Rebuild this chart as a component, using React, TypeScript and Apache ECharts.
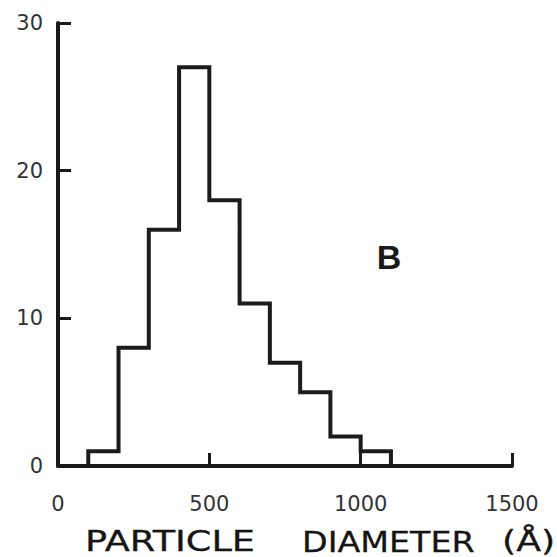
import React, { useEffect, useRef } from "react";
import * as echarts from "echarts";

const binEdges = [100, 200, 300, 400, 500, 600, 700, 800, 900, 1000, 1100];
const counts = [1, 8, 16, 27, 18, 11, 7, 5, 2, 1];
const xTicks = [0, 500, 1000, 1500];
const yTicks = [0, 10, 20, 30];
const xTitleWords = ["PARTICLE", "DIAMETER", "(Å)"];
const panelLabel = "B";

function stepPoints(): number[][] {
  const pts: number[][] = [[binEdges[0], 0]];
  counts.forEach((c, i) => {
    pts.push([binEdges[i], c]);
    pts.push([binEdges[i + 1], c]);
  });
  pts.push([binEdges[binEdges.length - 1], 0]);
  return pts;
}

export default function App() {
  const ref = useRef<HTMLDivElement>(null);
  useEffect(() => {
    if (!ref.current) return;
    const chart = echarts.init(ref.current, undefined, { renderer: "svg" });
    const axisColor = "#1a1a1a";
    const labelColor = "#333";
    const titleStyle = (text: string) => ({
      text,
      fontFamily: "DejaVu Sans",
      fontSize: 28,
      lineHeight: 26,
      fill: "#151515",
      stroke: "#151515",
      lineWidth: 0.3,
      align: "left",
      verticalAlign: "middle",
    });
    chart.setOption({
      animation: false,
      backgroundColor: "#fff",
      grid: { left: 58, right: 45, top: 23, bottom: 91 },
      xAxis: {
        type: "value",
        min: xTicks[0],
        max: xTicks[xTicks.length - 1],
        interval: 500,
        axisLine: { show: true, lineStyle: { color: axisColor, width: 4 } },
        axisTick: { show: true, inside: true, length: 13, lineStyle: { color: axisColor, width: 3 } },
        splitLine: { show: false },
        axisLabel: {
          color: labelColor,
          fontSize: 21,
          fontFamily: "DejaVu Sans",
          margin: 27,
          formatter: (v: number) => String(v),
        },
      },
      yAxis: {
        type: "value",
        min: yTicks[0],
        max: yTicks[yTicks.length - 1],
        interval: 10,
        axisLine: { show: true, lineStyle: { color: axisColor, width: 4 } },
        axisTick: { show: true, inside: true, length: 13, lineStyle: { color: axisColor, width: 3 } },
        splitLine: { show: false },
        axisLabel: {
          color: labelColor,
          fontSize: 21,
          fontFamily: "DejaVu Sans",
          margin: 15,
          formatter: (v: number) => String(v),
        },
      },
      series: [
        {
          type: "line",
          data: stepPoints(),
          showSymbol: false,
          symbol: "none",
          lineStyle: { color: "#1c1c1c", width: 4, join: "miter" },
          z: 3,
        },
      ],
      graphic: [
        {
          type: "text",
          x: 389,
          y: 257,
          style: {
            text: panelLabel,
            fontFamily: "Liberation Sans",
            fontWeight: "bold",
            fontSize: 34,
            fill: "#1a1a1a",
            align: "center",
            verticalAlign: "middle",
          },
        },
        { type: "text", x: 85, y: 542, scaleX: 1.31, style: titleStyle(xTitleWords[0]) },
        { type: "text", x: 302, y: 542, scaleX: 1.19, style: titleStyle(xTitleWords[1]) },
        { type: "text", x: 502, y: 542, scaleX: 1.3, style: titleStyle(xTitleWords[2]) },
      ],
    });
    return () => chart.dispose();
  }, []);
  return (
    <div
      ref={ref}
      style={{ position: "fixed", left: 0, top: 0, width: 557, height: 557, background: "#fff" }}
    />
  );
}
